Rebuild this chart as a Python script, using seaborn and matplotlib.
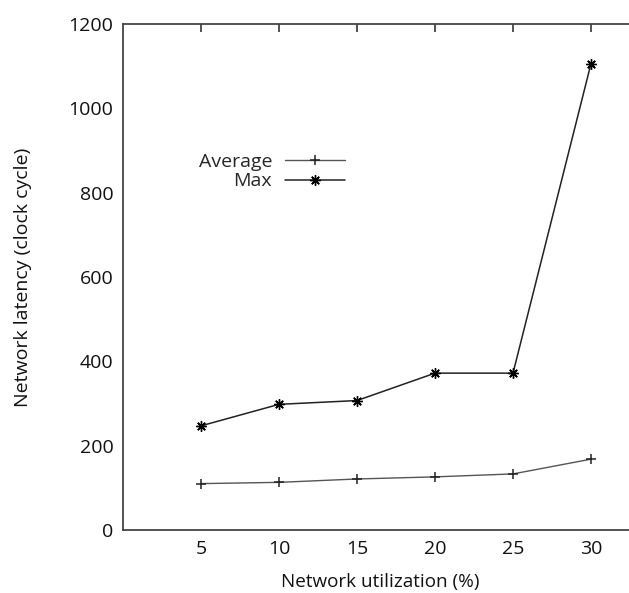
import matplotlib
matplotlib.use("Agg")
import matplotlib.pyplot as plt
import seaborn as sns
import pandas as pd

utilization = [5, 10, 15, 20, 25, 30]
avg_latency = [110, 113, 121, 126, 133, 168]
max_latency = [247, 298, 307, 372, 372, 1106]
x_ticks = [5, 10, 15, 20, 25, 30]
y_ticks = [0, 200, 400, 600, 800, 1000, 1200]

sns.set_theme(style="white")
plt.rcParams['font.family'] = ['Open Sans', 'DejaVu Sans']

fig = plt.figure(figsize=(6.29, 5.93), dpi=100)
W, H = 629, 593
left, right, top, bottom = 123, 123 + 33 * 15.6, 24, 530
ax = fig.add_axes([left / W, (H - bottom) / H, (right - left) / W, (bottom - top) / H])

df_avg = pd.DataFrame({"x": utilization, "y": avg_latency})
df_max = pd.DataFrame({"x": utilization, "y": max_latency})

sns.lineplot(data=df_avg, x="x", y="y", ax=ax, color="#555555", lw=1.0,
             marker="+", markersize=7, markeredgewidth=1.1, markeredgecolor="#222222",
             label="Average")
sns.lineplot(data=df_max, x="x", y="y", ax=ax, color="#222222", lw=1.1,
             marker=(8, 2, 0), markersize=7.5, markeredgewidth=1.0, markeredgecolor="#000000",
             label="Max")

ax.set_xlim(0, 33)
ax.set_ylim(0, 1200)
ax.set_xticks(x_ticks)
ax.set_yticks(y_ticks)
ax.set_xticklabels([str(v) for v in x_ticks])
ax.set_yticklabels([str(v) for v in y_ticks])
ax.tick_params(direction="in", length=6, width=1.2, colors="#333333",
               labelcolor="#111111", labelsize=14, top=True, right=True, pad=7)
for s in ax.spines.values():
    s.set_color("#444444")
    s.set_linewidth(1.3)

ax.set_xlabel("Network utilization (%)", fontsize=13.6, color="#111111", labelpad=11)
ax.set_ylabel("Network latency (clock cycle)", fontsize=14, color="#111111")
ax.yaxis.set_label_coords(-0.177, 0.5)

leg = ax.legend(loc="upper left", bbox_to_anchor=(0.113, 0.78), frameon=False,
                markerfirst=False, fontsize=14, handlelength=3.1,
                handletextpad=0.65, labelspacing=0.08)

fig.savefig("out.png", dpi=100)
